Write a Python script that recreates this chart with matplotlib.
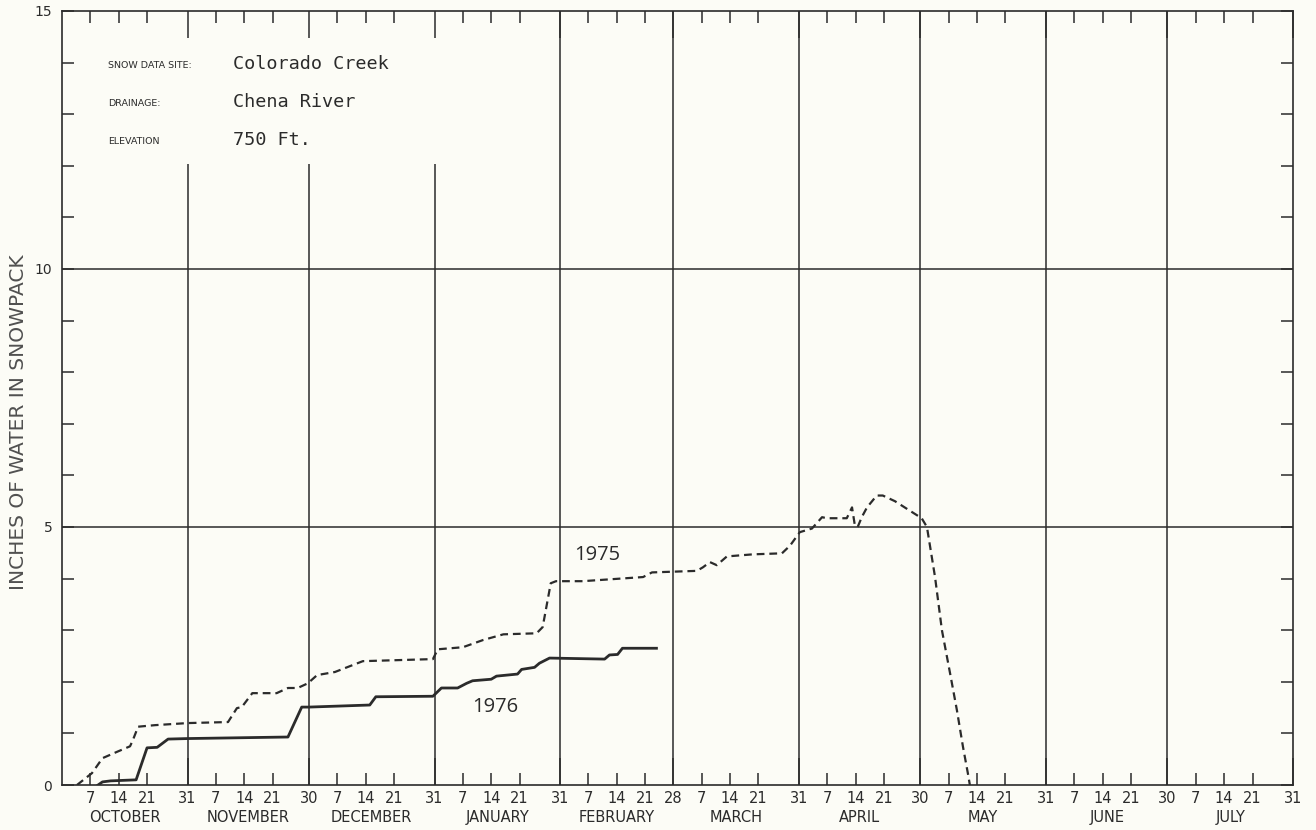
import matplotlib
matplotlib.use("Agg")
import matplotlib.pyplot as plt
import numpy as np

# x = days counted from Sep 30 (Oct 1 = day 1)
month_names = ["OCTOBER", "NOVEMBER", "DECEMBER", "JANUARY", "FEBRUARY",
               "MARCH", "APRIL", "MAY", "JUNE", "JULY"]
month_lengths = [31, 30, 31, 31, 28, 31, 30, 31, 30, 31]
week_days = [7, 14, 21]

# 1975 water year (dashed)
days_1975 = [3.7, 7.4, 10.0, 13.5, 16.8, 17.5, 18.8, 23.0, 31.0, 41.0, 43.2, 44.4,
             47.0, 53.0, 55.8, 58.2, 60.7, 63.0, 67.4, 71.0, 74.3, 91.6, 92.8, 99.0,
             104.0, 109.0, 117.2, 118.7, 120.7, 122.0, 128.6, 143.5, 145.7, 156.8,
             158.3, 160.0, 161.7, 164.2, 170.6, 177.8, 179.8, 182.2, 185.2, 187.7,
             188.9, 193.8, 195.1, 195.8, 196.5, 197.5, 198.8, 201.2, 202.7, 205.7,
             212.3, 213.6, 215.6, 217.3, 219.3, 221.0, 222.5, 223.7, 224.2]
swe_1975 = [0.0, 0.23, 0.52, 0.64, 0.75, 0.87, 1.13, 1.16, 1.20, 1.22, 1.49, 1.51,
            1.78, 1.78, 1.88, 1.88, 1.97, 2.13, 2.19, 2.30, 2.40, 2.44, 2.63, 2.67,
            2.81, 2.92, 2.94, 3.06, 3.91, 3.95, 3.95, 4.03, 4.12, 4.15,
            4.22, 4.32, 4.26, 4.43, 4.47, 4.49, 4.64, 4.90, 4.97, 5.19,
            5.17, 5.17, 5.38, 5.03, 5.00, 5.19, 5.38, 5.61, 5.61, 5.50,
            5.17, 5.00, 4.03, 3.00, 2.17, 1.45, 0.74, 0.23, 0.0]

# 1976 water year (solid)
days_1976 = [8.9, 10.0, 12.0, 18.3, 21.0, 23.5, 26.2, 31.0, 55.8, 59.2, 61.0, 76.0,
             77.5, 91.6, 93.7, 97.7, 99.9, 101.4, 106.0, 107.3, 112.5, 113.5, 116.7,
             117.9, 120.4, 134.0, 135.2, 137.2, 138.4, 146.8]
swe_1976 = [0.0, 0.06, 0.08, 0.10, 0.72, 0.73, 0.89, 0.90, 0.93, 1.51, 1.51, 1.55,
            1.71, 1.72, 1.88, 1.88, 1.97, 2.02, 2.05, 2.11, 2.15, 2.24, 2.28,
            2.36, 2.46, 2.44, 2.52, 2.53, 2.65, 2.65]

y_major = [0, 5, 10, 15]

ink = "#2b2b2b"
paper = "#fcfcf6"

fig = plt.figure(figsize=(13.16, 8.3), dpi=100, facecolor=paper)
ax = fig.add_axes([62 / 1316, 45 / 830, 1231 / 1316, 774 / 830], facecolor=paper)

month_ends = np.cumsum(month_lengths)
month_starts = month_ends - np.array(month_lengths)
total = month_ends[-1]

ax.set_xlim(0, total)
ax.set_ylim(0, 15)

# month boundaries; first three are broken by the site box
for i, e in enumerate(month_ends[:-1]):
    if i < 3:
        ax.vlines(e, 0, 12.04, color=ink, lw=1.1, zorder=1)
    else:
        ax.axvline(e, color=ink, lw=1.1, zorder=1)
for v in (5, 10):
    ax.axhline(v, color=ink, lw=1.1, zorder=1)

ax.plot(days_1975, swe_1975, color=ink, lw=1.6, dashes=(3.5, 2.2), zorder=3)
ax.plot(days_1976, swe_1976, color=ink, lw=2.0, zorder=3)

ax.text(132.3, 4.45, "1975", fontsize=14.5, color=ink, ha="center", va="center",
        family="Open Sans")
ax.text(106.9, 1.51, "1976", fontsize=14.5, color=ink, ha="center", va="center",
        family="Open Sans")

# ticks
minor_x = [s + d for s in month_starts for d in week_days]
minor_lbl = [str(d) for s in month_starts for d in week_days]
ax.set_xticks(month_ends)
ax.set_xticklabels([str(n) for n in month_lengths])
ax.set_xticks(minor_x, minor=True)
ax.set_xticklabels(minor_lbl, minor=True)
ax.tick_params(axis="x", which="major", direction="in", length=19.5, width=1.1,
               top=True, bottom=True, color=ink, labelsize=10.5, labelcolor=ink, pad=4)
ax.tick_params(axis="x", which="minor", direction="in", length=8.6, width=1.1,
               top=True, bottom=True, color=ink, labelsize=10.5, labelcolor=ink, pad=4)

ax.set_yticks(y_major)
ax.set_yticklabels([str(v) for v in y_major])
ax.set_yticks(range(0, 16), minor=True)
ax.tick_params(axis="y", which="both", direction="in", length=8.6, width=1.1,
               left=True, right=True, color=ink, labelsize=10, labelcolor=ink, pad=7)

for sp in ax.spines.values():
    sp.set_color(ink)
    sp.set_linewidth(1.2)

for s, n, name in zip(month_starts, month_lengths, month_names):
    ax.text(s + n / 2, -0.042, name, transform=ax.get_xaxis_transform(),
            ha="center", va="center", fontsize=10.5, color=ink)

fig.text(19 / 1316, 1 - 422 / 830, "INCHES OF WATER IN SNOWPACK", rotation=90,
         ha="center", va="center", fontsize=14.5, color="#505050")

# site box
rows = [("SNOW DATA SITE:", "Colorado Creek"),
        ("DRAINAGE:", "Chena River"),
        ("ELEVATION", "750 Ft.")]
label_y = [0.930, 0.881, 0.831]
for (lab, val), yy in zip(rows, label_y):
    ax.text(0.0374, yy, lab, transform=ax.transAxes, fontsize=6.8, color=ink,
            ha="left", va="center")
    ax.text(0.139, yy + 0.002, val, transform=ax.transAxes, fontsize=13.3, color=ink,
            ha="left", va="center", family="DejaVu Sans Mono")

fig.savefig("out.png", dpi=100, facecolor=paper)
